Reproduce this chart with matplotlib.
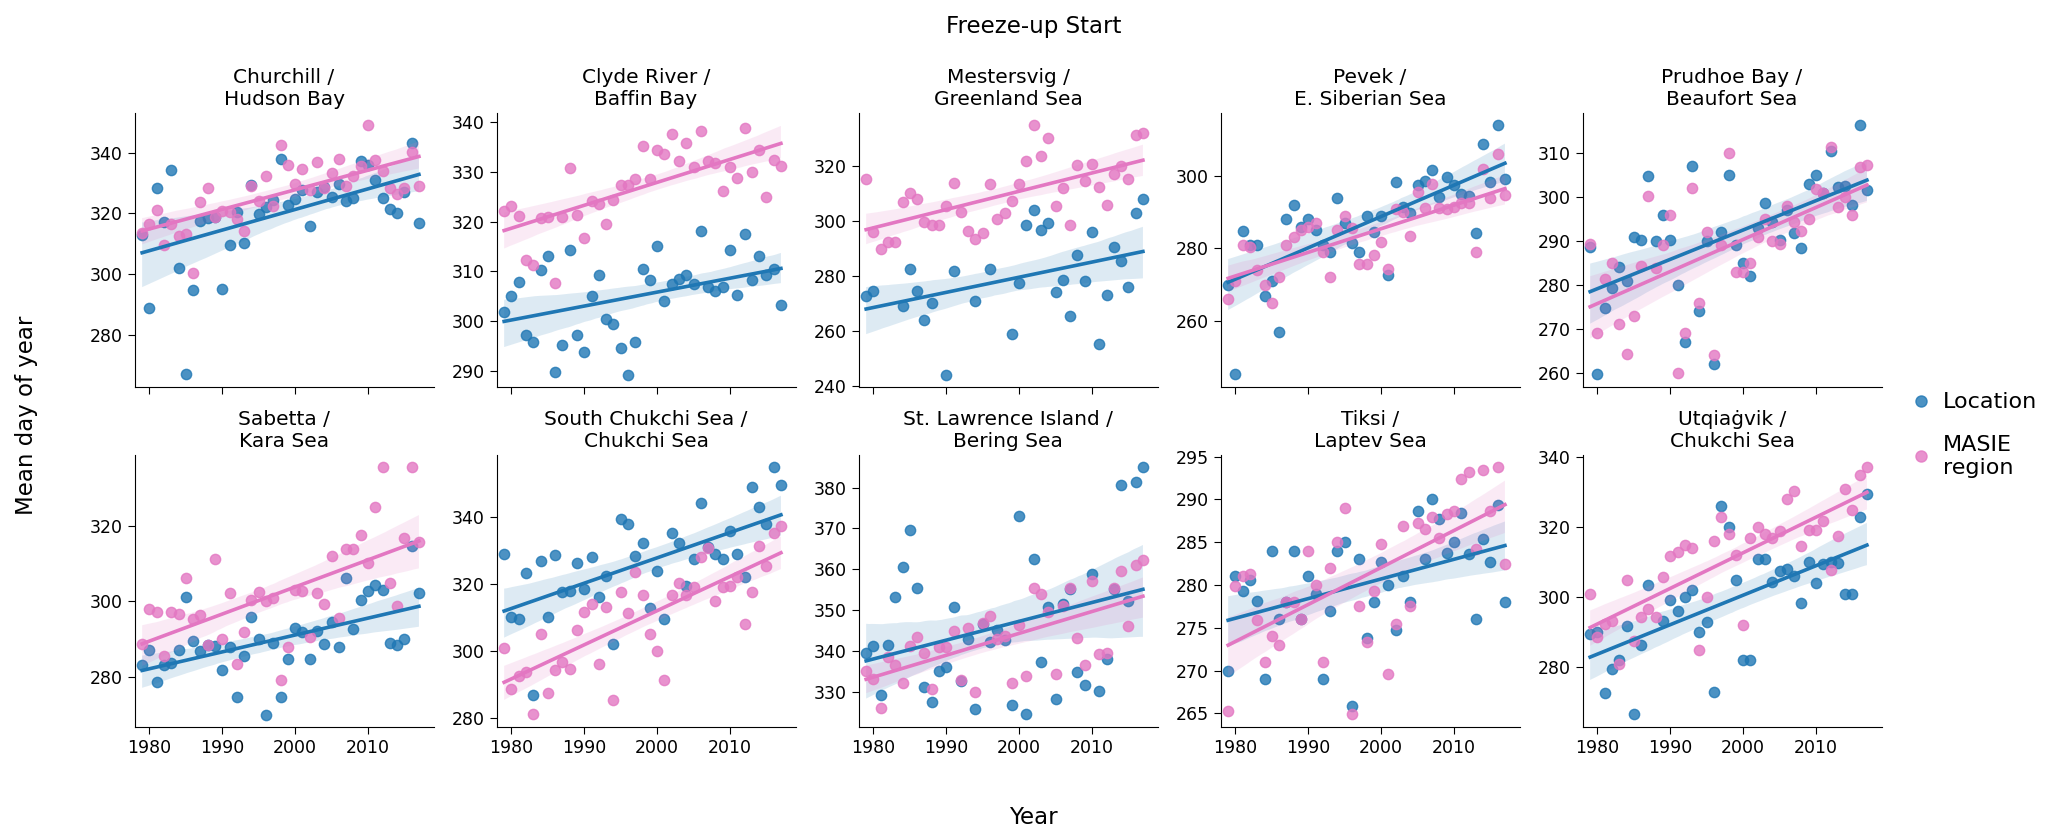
import numpy as np
import matplotlib
matplotlib.use('Agg')
from matplotlib import pyplot as plt
from matplotlib.lines import Line2D
from matplotlib.ticker import MultipleLocator
import seaborn as sns

nan = np.nan
years = np.arange(1979, 2018)

titles = ['Churchill /\nHudson Bay', 'Clyde River /\nBaffin Bay',
          'Mestersvig /\nGreenland Sea', 'Pevek /\nE. Siberian Sea',
          'Prudhoe Bay /\nBeaufort Sea', 'Sabetta /\nKara Sea',
          'South Chukchi Sea /\nChukchi Sea', 'St. Lawrence Island /\nBering Sea',
          'Tiksi /\nLaptev Sea', 'Utqiaġvik /\nChukchi Sea']

# Location values (1979..2017)
churchill_loc = [312.9, 288.8, 328.5, 317.1, 334.2, 302.2, 267.4, 294.8, 317.6, 318.5,
                 319.0, 295.2, 309.6, 320.4, 310.2, 329.4, 319.8, 322.2, 324.4, 337.9,
                 322.7, 324.6, 327.7, 315.8, 327.0, 328.6, 325.3, 329.7, 324.2, 325.0,
                 337.3, 336.0, 331.0, 325.0, 321.5, 320.0, 327.0, 343.1, 316.8]
clyde_loc = [301.9, 305.1, 307.9, 297.2, 295.8, 310.2, 313.1, 289.8, 295.2, 314.4,
             297.2, 293.8, 305.1, 309.2, 300.5, 299.4, 294.5, 289.1, 295.8, 310.5,
             308.2, 315.1, 304.0, 307.5, 308.5, 309.2, 307.5, 318.2, 306.8, 306.0,
             306.8, 314.4, 305.2, 317.5, 308.2, 313.1, 309.2, 310.5, 303.2]
mestersvig_loc = [272.7, 274.4, nan, nan, nan, 269.2, 282.7, 274.4, 264.1, 270.2,
                  nan, 244.1, 281.7, nan, nan, 271.1, nan, 282.7, nan, nan,
                  259.1, 277.3, 298.4, 303.9, 296.7, 299.4, 274.1, 278.6, 265.6, 287.7,
                  278.1, 295.9, 255.2, 273.1, 290.5, 285.6, 276.1, 303.0, 308.0]
pevek_loc = [270.0, 245.4, 284.9, 281.0, 281.0, 267.0, 271.0, 257.0, 288.0, 292.0,
             286.0, 288.0, 285.0, 281.0, 279.0, 294.0, 287.0, 281.6, 278.9, 289.0,
             284.6, 288.8, 272.6, 298.2, 291.5, 289.7, 297.5, 298.7, 301.7, 294.1,
             299.6, 297.5, 295.0, 294.5, 284.3, 308.8, 298.2, 313.9, 299.2]
prudhoe_loc = [288.6, 259.7, 274.7, 279.2, 284.0, 281.0, 291.0, 290.2, 304.7, 290.0,
               295.9, 290.2, 280.0, 267.0, 307.0, 274.0, 290.0, 262.0, 292.0, 305.0,
               289.0, 285.0, 282.0, 293.0, 298.6, 294.3, 290.2, 297.0, 291.8, 288.3,
               303.0, 304.9, 301.0, 310.4, 302.2, 302.4, 298.1, 316.3, 301.6]
sabetta_loc = [283.3, 287.1, 278.7, 283.1, 283.8, 287.1, 301.1, 289.5, 286.9, 288.6,
               288.2, 281.8, 288.0, 274.7, 285.5, 295.9, 290.1, 270.0, 289.0, 274.7,
               284.7, 293.0, 291.9, 284.7, 292.2, 288.7, 294.6, 288.0, 306.1, 292.8,
               300.5, 302.7, 304.3, 303.0, 289.0, 288.6, 290.0, 314.7, 302.1]
schukchi_loc = [329.0, 310.1, 309.6, 323.4, 287.0, 327.1, 310.1, 328.7, 317.7, 318.1,
                326.4, 318.7, 328.2, 316.1, 322.4, 302.0, 339.5, 338.0, 328.5, 332.5,
                312.9, 324.1, 309.7, 335.4, 332.5, 319.6, 327.5, 344.3, 331.1, 329.2,
                327.5, 335.9, 329.2, 322.2, 349.2, 343.2, 338.1, 355.2, 349.8]
stlawrence_loc = [339.5, 341.2, 329.1, 341.4, 353.1, 360.5, 369.7, 355.4, 331.1, 327.5,
                  335.1, 336.1, 350.8, 332.7, 343.0, 325.8, 346.6, 342.1, 345.0, 342.6,
                  326.6, 373.0, 324.5, 362.4, 337.2, 350.8, 328.1, 351.5, 355.2, 334.7,
                  331.5, 358.7, 330.1, 338.0, 355.2, 380.7, 352.3, 381.5, 385.0]
tiksi_loc = [270.0, 281.1, 279.3, 280.6, 278.1, 269.0, 284.0, 276.0, 278.0, 284.0,
             276.0, 281.0, 279.0, 269.0, 277.0, 284.0, 285.0, 265.8, 283.0, 273.8,
             278.0, 282.7, 280.0, 274.7, 281.0, 278.0, 288.7, 283.0, 290.0, 287.7,
             283.7, 285.0, 288.4, 283.6, 276.0, 285.4, 282.7, 289.4, 278.0]
utqiagvik_loc = [289.5, 290.0, 272.8, 279.7, 282.0, 291.9, 266.6, 286.4, 303.7, nan,
                 293.2, 299.2, 296.0, 300.0, 302.0, 290.0, 293.0, 273.0, 326.0, 320.0,
                 305.0, 282.0, 282.0, 311.0, 311.1, 304.5, 307.6, 308.0, 306.2, 298.3,
                 310.2, 304.0, 309.5, 310.0, 309.9, 301.1, 301.0, 323.0, 329.7]

# MASIE region values (1979..2017)
churchill_reg = [313.7, 316.5, 321.1, 309.6, 316.5, 312.7, 313.2, 300.3, 323.9, 328.5,
                 318.7, 320.9, 320.4, 318.2, 314.3, 329.1, 324.2, 332.3, 322.6, 342.5,
                 335.9, 329.7, 334.6, 327.7, 337.0, 328.3, 333.2, 337.9, 329.1, 332.4,
                 335.6, 348.9, 337.6, 333.8, 328.3, 326.3, 328.3, 340.3, 329.1]
clyde_reg = [322.1, 323.2, 321.2, 312.3, 311.2, 320.8, 320.9, 307.7, 320.9, 330.9,
             321.4, 316.8, 324.1, 323.5, 319.6, 324.3, 327.4, 327.4, 328.6, 335.3,
             328.6, 334.4, 333.6, 337.7, 332.2, 335.8, 331.0, 338.2, 332.2, 331.8,
             326.2, 331.0, 328.9, 338.9, 330.0, 334.4, 324.9, 332.4, 331.2]
mestersvig_reg = [315.3, 295.9, 289.8, 292.2, 292.2, 307.0, 310.3, 308.1, 299.7, 298.6,
                  298.6, 305.3, 313.9, 303.4, 296.4, 293.3, 295.6, 313.4, 300.8, 303.0,
                  307.3, 313.4, 321.9, 334.8, 323.6, 330.3, 305.6, 312.0, 298.6, 320.3,
                  314.4, 320.5, 312.3, 305.8, 317.0, 319.8, 315.2, 331.1, 332.0]
pevek_reg = [266.0, 271.0, 281.0, 280.5, 274.0, 270.0, 265.0, 272.0, 281.0, 283.0,
             285.0, 286.0, 287.0, 279.0, 272.0, 285.0, 289.0, 285.5, 275.6, 275.6,
             278.3, 281.8, 274.2, 290.9, 290.0, 283.5, 295.5, 291.2, 297.7, 291.2,
             290.9, 291.5, 292.6, 292.6, 278.9, 301.8, 293.8, 306.0, 294.6]
prudhoe_reg = [289.3, 269.1, 281.3, 285.1, 271.2, 264.3, 272.9, 284.3, 300.3, 283.8,
               289.0, 296.0, 260.0, 269.0, 302.0, 276.0, 292.0, 264.0, 289.0, 310.0,
               283.0, 283.0, 285.0, 291.0, 295.0, 290.0, 289.3, 298.0, 294.4, 292.3,
               295.0, 301.8, 300.9, 311.4, 297.7, 300.1, 295.9, 306.8, 307.3]
sabetta_reg = [288.8, 298.1, 297.2, 285.5, 297.1, 296.8, 306.2, 295.4, 296.3, 288.6,
               311.1, 290.0, 302.3, 283.5, 291.8, 300.5, 302.5, 300.1, 300.9, 279.1,
               288.0, 303.0, 302.8, 290.6, 302.3, 299.4, 312.1, 295.5, 313.8, 313.8,
               317.5, 310.2, 324.9, 335.6, 304.9, 298.7, 316.8, 335.6, 315.6]
schukchi_reg = [300.9, 288.8, 292.5, 293.9, 281.1, 305.2, 287.6, 294.5, 296.9, 294.6,
                306.2, 311.8, 314.1, 296.1, 313.1, 285.5, 317.7, 311.3, 323.6, 316.7,
                305.2, 300.0, 291.5, 316.9, 320.3, 316.8, 319.2, 328.2, 330.8, 315.0,
                319.2, 319.4, 322.2, 308.0, 317.8, 331.5, 325.5, 335.3, 337.6]
stlawrence_reg = [335.1, 333.0, 326.0, 338.4, 336.4, 332.1, 341.1, 343.3, 339.4, 330.7,
                  340.9, 340.9, 344.9, 332.9, 345.6, 329.9, 346.8, 348.6, 342.9, 343.7,
                  332.2, 346.4, 333.7, 355.4, 353.9, 349.4, 334.4, 351.0, 355.5, 343.2,
                  336.6, 357.0, 339.3, 339.4, 355.3, 359.6, 346.1, 361.0, 362.2]
tiksi_reg = [265.3, 279.9, 281.1, 281.3, 275.9, 271.0, 274.0, 273.0, 278.0, 278.0,
             276.0, 284.0, 280.0, 271.0, 282.0, 285.0, 289.0, 264.9, 277.6, 273.3,
             279.3, 284.8, 269.6, 275.4, 286.9, 277.5, 287.3, 286.6, 287.9, 285.5,
             288.3, 288.6, 292.4, 293.2, 284.2, 293.4, 288.6, 293.8, 282.5]
utqiagvik_reg = [300.9, 288.6, 292.4, 293.3, 281.1, 305.0, 287.6, 294.5, 296.6, 294.5,
                 305.9, 311.9, 313.0, 315.0, 314.0, 285.0, 300.0, 316.0, 323.0, 318.0,
                 312.0, 292.0, 317.0, 320.0, 318.0, 316.9, 319.0, 328.0, 330.4, 314.8,
                 319.2, 319.2, 321.9, 307.8, 317.6, 331.1, 325.1, 335.0, 337.3]

loc_data = [churchill_loc, clyde_loc, mestersvig_loc, pevek_loc, prudhoe_loc,
            sabetta_loc, schukchi_loc, stlawrence_loc, tiksi_loc, utqiagvik_loc]
reg_data = [churchill_reg, clyde_reg, mestersvig_reg, pevek_reg, prudhoe_reg,
            sabetta_reg, schukchi_reg, stlawrence_reg, tiksi_reg, utqiagvik_reg]

ylims = [(263, 353), (286.7, 341.9), (239.7, 339.2), (241.8, 317.3), (256.8, 319.1),
         (266.8, 338.7), (277.3, 358.7), (321.3, 388.0), (263.4, 295.2), (263.0, 340.7)]
ysteps = [20, 10, 20, 20, 10, 20, 20, 10, 5, 20]

c_loc = '#1f77b4'
c_reg = '#e377c2'

W, H = 2067, 840
fig = plt.figure(figsize=(W / 100, H / 100), dpi=100)

for i in range(10):
	row, col = divmod(i, 5)
	left = (134.5 + 362 * col) / W
	if row == 0:
		bottom, height = (H - 387) / H, 274 / H
	else:
		bottom, height = (H - 727) / H, 272 / H
	ax = fig.add_axes([left, bottom, 299 / W, height])
	for vals, c in [(loc_data[i], c_loc), (reg_data[i], c_reg)]:
		sns.regplot(x=years, y=np.array(vals, dtype=float), ax=ax, color=c,
		            ci=95, n_boot=1000, seed=1, truncate=True,
		            scatter_kws={'s': 55, 'alpha': 0.8},
		            line_kws={'lw': 2.6})
	ax.set_xlim(1977.95, 2019.0)
	ax.set_ylim(*ylims[i])
	ax.yaxis.set_major_locator(MultipleLocator(ysteps[i]))
	ax.set_xticks([1980, 1990, 2000, 2010])
	if row == 0:
		ax.set_xticklabels([])
	ax.set_xlabel('')
	ax.set_ylabel('')
	ax.tick_params(labelsize=12.5, length=5)
	ax.set_title(titles[i], fontsize=14.5, pad=6)
	sns.despine(ax=ax)

fig.text(0.5, 1 - 26 / H, 'Freeze-up Start', ha='center', va='center', fontsize=16.5)
fig.text(0.5, 1 - 817 / H, 'Year', ha='center', va='center', fontsize=16.5)
fig.text(27 / W, 1 - 415 / H, 'Mean day of year', ha='center', va='center',
         rotation=90, fontsize=16.5)

handles = [Line2D([], [], ls='', marker='o', ms=8, color=c_loc, alpha=0.8),
           Line2D([], [], ls='', marker='o', ms=8, color=c_reg, alpha=0.8)]
fig.legend(handles, ['Location', 'MASIE\nregion'], loc='center left',
           bbox_to_anchor=(1912 / W, 1 - 435 / H), frameon=False, fontsize=16,
           handlelength=0.8, handletextpad=0.6, labelspacing=1.0,
           borderaxespad=0, borderpad=0)

fig.savefig('out.png', dpi=100)
